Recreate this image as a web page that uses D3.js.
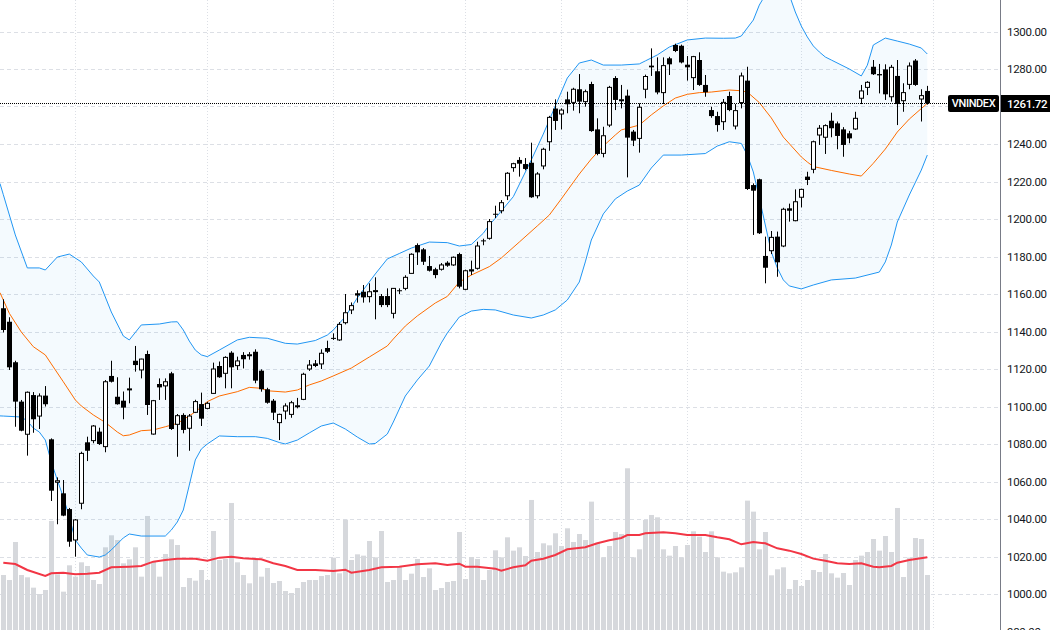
<!DOCTYPE html>
<html>
<head>
<meta charset="utf-8">
<script src="https://cdn.jsdelivr.net/npm/d3@7"></script>
<style>
  body { margin: 0; background: #fff; }
  svg { display: block; }
  text { font-family: Roboto, "Liberation Sans", Arial, sans-serif; }
</style>
</head>
<body>
<svg id="chart" width="1050" height="630"></svg>
<script>
// daily candles, index 0..154
var opens = [1152.4,1145.2,1123.6,1102.6,1085.2,1106.1,1094.9,1105.8,1082.5,1059.6,
1053.7,1045.3,1028.8,1048.4,1080.9,1081.8,1086.6,1078.6,1116.3,1105.2,
1103.1,1109.0,1124.4,1119.5,1128.0,1085.3,1112.0,1111.0,1117.7,1090.5,
1095.5,1088.4,1096.9,1101.3,1099.0,1107.0,1121.6,1117.7,1128.7,1121.8,
1127.5,1127.3,1129.2,1119.1,1109.2,1103.1,1091.4,1097.6,1095.8,1100.0,
1103.8,1120.0,1123.0,1122.7,1131.2,1136.6,1135.5,1144.7,1151.5,1160.4,
1161.2,1158.6,1161.4,1158.9,1158.9,1149.7,1162.0,1163.0,1171.0,1186.1,
1183.8,1174.9,1173.2,1173.2,1176.7,1175.5,1181.3,1162.5,1173.2,1173.7,
1188.6,1189.7,1202.8,1204.4,1212.4,1227.4,1231.5,1229.3,1230.0,1212.4,
1228.3,1241.2,1258.9,1256.0,1263.8,1262.2,1269.2,1262.6,1272.0,1247.8,
1235.0,1250.1,1275.2,1263.4,1265.8,1246.6,1243.0,1269.2,1281.8,1278.8,
1267.4,1285.7,1292.8,1292.4,1282.3,1275.4,1284.8,1271.5,1258.1,1254.9,
1251.9,1265.6,1249.6,1262.1,1273.8,1218.1,1221.2,1180.3,1183.1,1190.6,
1185.6,1205.7,1199.1,1211.6,1222.6,1226.5,1244.8,1243.6,1252.4,1251.0,
1247.8,1245.7,1248.0,1264.4,1270.2,1281.2,1277.3,1279.8,1265.2,1276.3,
1263.1,1271.8,1284.5,1264.0,1268.3];
var highs = [1157.2,1147.6,1124.4,1103.5,1108.0,1107.7,1107.0,1110.9,1083.0,1062.2,
1060.8,1045.9,1040.0,1075.9,1083.9,1090.1,1088.7,1114.1,1124.4,1115.6,
1108.0,1115.4,1132.3,1125.5,1129.8,1103.5,1115.0,1115.0,1118.5,1096.0,
1096.4,1096.0,1103.6,1107.4,1102.5,1123.4,1124.0,1126.8,1129.5,1126.6,
1129.0,1129.0,1130.5,1119.8,1110.0,1104.0,1096.2,1101.7,1103.0,1104.6,
1118.0,1124.8,1124.8,1130.5,1135.1,1139.0,1145.0,1160.0,1155.5,1162.0,
1164.8,1165.7,1168.9,1160.0,1163.0,1163.2,1163.0,1170.0,1181.7,1187.0,
1184.5,1180.3,1174.0,1176.5,1177.5,1180.0,1182.0,1173.0,1177.8,1187.9,
1189.5,1200.0,1207.1,1210.1,1225.0,1230.0,1233.0,1232.5,1240.7,1225.0,
1238.0,1255.0,1263.8,1259.0,1267.9,1270.0,1277.3,1269.0,1273.2,1253.7,
1249.2,1271.0,1276.2,1271.5,1269.0,1247.5,1261.7,1277.0,1291.0,1286.2,
1286.2,1286.5,1293.5,1293.0,1286.9,1287.0,1288.9,1276.8,1259.9,1257.2,
1264.0,1267.9,1261.3,1278.1,1281.2,1219.0,1221.5,1190.6,1193.6,1193.3,
1206.0,1208.2,1215.8,1216.2,1225.2,1241.8,1250.1,1250.5,1256.7,1252.0,
1249.0,1247.0,1257.2,1271.5,1273.5,1284.8,1282.7,1282.5,1282.2,1284.8,
1272.4,1283.5,1285.3,1269.2,1271.0];
var lows = [1139.5,1119.5,1089.2,1086.8,1073.8,1086.0,1088.0,1100.0,1049.6,1037.2,
1041.5,1025.2,1019.9,1045.2,1070.9,1080.4,1079.5,1075.6,1112.8,1101.0,
1093.2,1101.7,1118.6,1115.0,1095.5,1085.0,1103.5,1103.5,1087.5,1073.2,
1085.7,1076.4,1096.5,1089.6,1098.5,1106.8,1115.3,1109.7,1109.7,1119.5,
1120.3,1125.0,1112.4,1107.9,1101.5,1092.8,1082.1,1093.2,1094.0,1099.0,
1103.4,1119.0,1121.0,1120.0,1128.5,1135.5,1135.0,1143.8,1149.3,1155.4,
1155.4,1155.5,1146.5,1153.0,1153.0,1147.0,1160.0,1162.0,1171.0,1175.5,
1175.5,1172.0,1168.4,1172.5,1174.5,1175.0,1163.0,1162.0,1170.1,1173.0,
1186.0,1189.0,1200.5,1203.0,1210.1,1225.2,1222.6,1226.0,1211.3,1211.0,
1226.5,1236.4,1247.5,1247.8,1256.4,1257.8,1256.4,1259.9,1246.5,1234.0,
1232.9,1249.0,1258.1,1259.0,1222.2,1238.9,1235.4,1264.4,1276.3,1266.5,
1261.3,1276.8,1289.0,1283.0,1273.8,1268.8,1271.0,1265.2,1254.0,1246.6,
1247.5,1257.5,1247.8,1259.0,1215.5,1191.5,1192.0,1165.7,1181.3,1169.2,
1185.0,1198.6,1198.8,1206.2,1218.1,1224.4,1239.5,1234.7,1243.6,1237.2,
1233.2,1240.4,1247.5,1261.3,1266.1,1276.8,1267.0,1263.5,1262.6,1250.1,
1257.2,1269.2,1271.0,1252.0,1261.0];
var closes = [1140.8,1120.9,1102.6,1087.1,1107.6,1093.2,1105.6,1101.2,1055.1,1060.4,
1041.8,1027.9,1039.5,1075.0,1076.4,1089.6,1080.0,1113.2,1113.2,1101.2,
1099.4,1109.4,1122.1,1125.3,1100.8,1103.1,1110.2,1113.2,1088.0,1095.1,
1087.5,1094.9,1102.6,1093.5,1101.7,1120.0,1115.6,1126.2,1120.9,1124.3,
1125.2,1127.6,1113.8,1109.2,1102.0,1096.7,1095.8,1100.3,1102.0,1100.4,
1117.2,1122.1,1121.6,1128.4,1129.2,1136.3,1143.8,1150.0,1153.8,1159.2,
1158.2,1161.2,1161.8,1154.1,1154.1,1163.0,1161.5,1168.9,1181.2,1182.2,
1177.2,1172.4,1170.1,1175.5,1175.1,1179.6,1163.9,1172.4,1172.0,1185.6,
1188.2,1198.6,1202.3,1208.7,1224.4,1229.5,1229.5,1226.7,1211.6,1224.0,
1237.2,1254.2,1252.3,1258.1,1261.2,1269.2,1262.6,1267.9,1246.9,1234.7,
1244.4,1270.2,1263.5,1263.6,1243.4,1241.8,1259.6,1276.0,1280.9,1267.5,
1281.8,1282.5,1289.6,1283.5,1280.9,1286.6,1271.5,1267.6,1254.9,1250.1,
1262.2,1258.1,1257.8,1276.3,1216.0,1215.1,1192.4,1174.0,1190.2,1176.9,
1205.2,1204.4,1209.2,1215.8,1220.8,1241.2,1248.4,1249.8,1248.4,1244.3,
1239.5,1243.0,1253.7,1268.3,1272.9,1277.2,1276.6,1266.5,1280.9,1261.3,
1267.4,1281.6,1271.5,1265.8,1261.72];
// volume, millions of shares
var volumes = [330,300,528,330,316,254,216,240,654,334,
230,388,320,406,384,300,276,496,568,540,
400,424,496,320,684,408,320,456,544,510,
258,312,296,360,300,594,420,426,762,406,
330,280,420,320,372,282,294,234,222,252,
288,300,300,324,330,434,340,662,420,454,
446,534,436,594,288,300,378,300,338,426,
318,370,240,252,288,294,588,306,438,426,
300,360,478,436,556,476,496,444,780,468,
520,508,580,504,610,528,576,540,770,524,
436,504,588,576,970,436,484,660,690,676,
484,446,504,436,510,592,560,468,592,436,
350,340,346,376,776,710,484,588,328,364,
376,246,300,264,300,360,348,456,340,314,
342,270,420,446,468,546,476,564,468,732,
318,434,552,546,330];

// volume moving average (read at these bar indexes)
var volMaIdx = [0,2,4,7,8,10,12,14,16,18,21,23,25,27,29,32,34,36,38,40,43,45,47,49,52,55,57,58,61,63,66,69,72,74,76,77,79,82,83,85,87,88,90,92,94,97,99,101,103,104,106,107,110,112,114,117,119,121,123,125,127,129,131,133,135,137,139,141,143,145,146,148,149,151,154];
var volMaVal = [404,396,360,324,340,344,334,338,344,376,380,384,410,420,428,428,416,434,440,430,424,400,384,360,360,354,362,344,360,376,380,394,400,390,398,380,380,368,356,376,388,416,428,450,484,496,520,538,552,570,570,580,586,580,570,570,556,544,514,528,520,490,476,456,428,416,400,396,400,380,376,384,404,420,436];

// bollinger bands
var midIdx = [0,1,3,5,7,8,10,12,13,15,17,19,20,21,23,25,27,29,32,34,36,39,41,43,44,47,49,51,53,55,58,61,64,65,67,69,72,74,76,78,81,83,86,89,91,93,96,98,100,102,103,106,108,110,112,114,116,118,121,123,124,126,128,130,133,134,135,138,141,143,145,147,149,151,154];
var midVal = [1156.8,1149.7,1139.7,1131.9,1127.5,1122.7,1113.2,1103.5,1100.3,1095.5,1091.5,1086.4,1084.4,1084.8,1087.1,1087.5,1089.2,1091,1097.1,1102.6,1105.6,1107.9,1110.2,1109.7,1108.4,1107.7,1108.8,1111.5,1113.6,1116.3,1120.5,1126.4,1132.3,1136,1142.9,1148.3,1155.2,1158.7,1166.4,1170.1,1174.6,1179.2,1187.7,1196.3,1202.1,1210.7,1224,1232,1238.9,1244.8,1247.5,1250.1,1255.5,1260.3,1264.5,1266.5,1267.4,1267.7,1268.8,1268.4,1267.7,1262.1,1253.9,1243.7,1233.1,1230.4,1228,1225.9,1224,1222.9,1229.7,1237.3,1246.4,1253.3,1261.7];
var upIdx = [0,2,4,6,7,9,11,13,15,16,18,20,21,23,26,28,29,30,31,32,33,34,36,39,41,44,47,49,52,54,55,57,59,62,64,66,68,71,74,76,78,80,81,82,85,88,90,92,94,96,98,100,103,106,107,109,111,114,117,120,122,123,124,125,126,127,129,131,132,133,134,135,136,137,138,141,143,144,145,147,149,151,153,154];
var upVal = [1213.0,1191.5,1173.9,1173.9,1172.8,1179.7,1181.3,1177.1,1169.6,1166.4,1150.4,1137.6,1135.5,1143.5,1144,1145.1,1145.2,1140.8,1134.9,1130.1,1127.5,1126.6,1130.1,1135.5,1136.9,1136.4,1133.7,1133.3,1135.2,1138.1,1140.8,1147.9,1157.9,1170.7,1178.7,1181.6,1184.5,1187.7,1187.4,1185.6,1186.4,1192.4,1196.8,1200.4,1211.9,1231.5,1245.3,1260.3,1275.2,1283.2,1284.8,1282.1,1282.1,1282.7,1284.3,1287.5,1291.7,1295.5,1296.5,1296.4,1296.5,1297.6,1301.9,1306.1,1314.1,1319.5,1327,1319.5,1310.4,1302.9,1297.1,1292.3,1289.1,1286.4,1284.8,1280,1276.3,1282,1292.8,1296.5,1294.9,1293.3,1291.2,1288];
var loIdx = [0,3,4,5,6,7,8,9,10,11,12,13,14,16,17,18,20,21,23,27,28,29,30,31,32,33,34,36,39,42,44,46,47,49,51,53,55,57,59,61,62,64,65,67,69,71,73,74,76,78,80,82,85,88,90,92,94,96,97,98,100,102,104,106,108,110,113,117,119,121,123,124,125,126,127,128,129,130,131,133,135,138,142,146,147,148,149,151,153,154];
var loVal = [1094.9,1094.4,1092.3,1088.5,1086.4,1082.1,1070.4,1060.8,1051.7,1041.1,1028.8,1024.5,1020.8,1019.7,1020.8,1023.5,1029.9,1032,1030.9,1030.9,1034.1,1038.4,1044.8,1058.1,1071.5,1077.3,1080,1084.3,1083.9,1083.9,1083,1080.8,1080,1082.1,1085.9,1089.6,1091.2,1088,1083.7,1080,1080.3,1085.3,1091.7,1105.6,1114.1,1121.6,1133.9,1139.2,1147.7,1150.9,1151.8,1151.5,1148.8,1147.2,1148.8,1151.5,1156.8,1166.4,1177.1,1188.8,1202.7,1210.7,1214.9,1218.1,1227.2,1234.1,1234.1,1234.9,1238.9,1241.2,1240.3,1234.1,1225.1,1211.2,1196.8,1182.4,1173.9,1167.5,1164.3,1162.7,1164.8,1167.5,1168.5,1171.7,1177.1,1186.1,1198.4,1212.8,1226.1,1234.1];

var priceTicks = d3.range(980, 1301, 20);
var monthIdx = [12, 34, 55, 77, 93, 114, 133, 155];
var symbol = "VNINDEX";
var lastPrice = 1261.72;

var W = 1050, H = 630, paneW = 1000;
var fontStack = "Roboto, 'Liberation Sans', Arial, sans-serif";
var svg = d3.select("#chart");
svg.append("rect").attr("width", W).attr("height", H).attr("fill", "#fff");

var x = d3.scaleLinear().domain([0, 154]).range([3.3, 927.3]);
var y = d3.scaleLinear().domain([1000, 1300]).range([594, 31.5]);
var yv = d3.scaleLinear().domain([0, 1000]).range([630, 463.3]);

svg.append("clipPath").attr("id", "pane")
    .append("rect").attr("width", paneW).attr("height", H);
var pane = svg.append("g").attr("clip-path", "url(#pane)");

// grid
pane.selectAll(".hg").data(priceTicks).enter().append("line")
    .attr("x1", 0).attr("x2", paneW)
    .attr("y1", function(d){ return Math.round(y(d)) + 0.5; })
    .attr("y2", function(d){ return Math.round(y(d)) + 0.5; })
    .attr("stroke", "#dcdfe5").attr("stroke-dasharray", "4,3");
pane.selectAll(".vg").data(monthIdx).enter().append("line")
    .attr("x1", function(d){ return Math.round(x(d)) + 0.5; })
    .attr("x2", function(d){ return Math.round(x(d)) + 0.5; })
    .attr("y1", 0).attr("y2", H)
    .attr("stroke", "#dcdfe5").attr("stroke-dasharray", "1,2");

// volume
pane.selectAll(".vol").data(volumes).enter().append("rect")
    .attr("x", function(d, i){ return Math.round(x(i)) - 2; })
    .attr("width", 5)
    .attr("y", function(d){ return yv(d); })
    .attr("height", function(d){ return yv(0) - yv(d); })
    .attr("fill", "#d6d8dc");

var maPts = volMaIdx.map(function(d, k){ return [x(d), yv(volMaVal[k])]; });
pane.append("path").attr("d", d3.line()(maPts))
    .attr("fill", "none").attr("stroke", "#f23645").attr("stroke-width", 2);

// bollinger
var upPts = upIdx.map(function(d, k){ return [x(d), y(upVal[k])]; });
var loPts = loIdx.map(function(d, k){ return [x(d), y(loVal[k])]; });
var midPts = midIdx.map(function(d, k){ return [x(d), y(midVal[k])]; });
// stretch first points to the pane's left edge
[upPts, loPts, midPts].forEach(function(p){ p.unshift([0, p[0][1] - (p[1][1] - p[0][1]) / (p[1][0] - p[0][0]) * p[0][0]]); });
pane.append("path").attr("d", d3.line()(upPts.concat(loPts.slice().reverse())) + "Z")
    .attr("fill", "rgba(33,150,243,0.05)");
pane.append("path").attr("d", d3.line()(upPts))
    .attr("fill", "none").attr("stroke", "#2196f3").attr("stroke-width", 1);
pane.append("path").attr("d", d3.line()(loPts))
    .attr("fill", "none").attr("stroke", "#2196f3").attr("stroke-width", 1);
pane.append("path").attr("d", d3.line()(midPts))
    .attr("fill", "none").attr("stroke", "#ff6d00").attr("stroke-width", 1);

// candles
var idx = d3.range(closes.length);
var candles = pane.selectAll(".c").data(idx).enter().append("g");
candles.append("line")
    .attr("x1", function(i){ return Math.round(x(i)) + 0.5; })
    .attr("x2", function(i){ return Math.round(x(i)) + 0.5; })
    .attr("y1", function(i){ return y(highs[i]); })
    .attr("y2", function(i){ return y(lows[i]); })
    .attr("stroke", "#000");
candles.append("rect")
    .each(function(i){
        var up = closes[i] >= opens[i];
        var top = y(Math.max(opens[i], closes[i]));
        var bot = y(Math.min(opens[i], closes[i]));
        var cx = Math.round(x(i));
        var r = d3.select(this);
        if (up) {
            r.attr("x", cx - 1.5).attr("width", 4)
             .attr("y", top).attr("height", Math.max(1, bot - top))
             .attr("fill", "#fff").attr("stroke", "#000");
        } else {
            r.attr("x", cx - 2).attr("width", 5)
             .attr("y", top).attr("height", Math.max(1, bot - top))
             .attr("fill", "#000");
        }
    });

// last price line
var ly = Math.round(y(lastPrice)) + 0.5;
pane.append("line").attr("x1", 0).attr("x2", 948).attr("y1", ly).attr("y2", ly)
    .attr("stroke", "#000").attr("stroke-dasharray", "1,1");

// price scale (labels under the last price badge are hidden)
svg.append("line").attr("x1", paneW + 0.5).attr("x2", paneW + 0.5)
    .attr("y1", 0).attr("y2", H).attr("stroke", "#787b86");
var shownTicks = priceTicks.filter(function(d){ return Math.abs(y(d) - ly) > 14; });
var axis = d3.axisRight(y).tickValues(shownTicks).tickSize(0).tickPadding(7)
    .tickFormat(d3.format(".2f"));
var ag = svg.append("g").attr("transform", "translate(" + paneW + ",0)").call(axis);
ag.select(".domain").remove();
ag.selectAll("text").attr("font-size", 11.5).attr("fill", "#131722")
    .attr("letter-spacing", "-0.3px").attr("font-family", fontStack);

// labels
svg.append("rect").attr("x", 948).attr("y", ly - 8.5).attr("width", 51).attr("height", 17)
    .attr("rx", 2).attr("fill", "#000");
svg.append("text").attr("x", 973.5).attr("y", ly).attr("dy", "0.35em")
    .attr("text-anchor", "middle").attr("fill", "#fff").attr("font-size", 11)
    .attr("letter-spacing", "-0.4px").attr("font-weight", 500)
    .text(symbol);
svg.append("rect").attr("x", 1001).attr("y", ly - 8.5).attr("width", 49).attr("height", 17)
    .attr("fill", "#000");
svg.append("text").attr("x", 1007).attr("y", ly).attr("dy", "0.35em")
    .attr("fill", "#fff").attr("font-size", 11.5).attr("font-weight", 500)
    .attr("letter-spacing", "-0.3px")
    .text(d3.format(".2f")(lastPrice));
</script>
</body>
</html>
